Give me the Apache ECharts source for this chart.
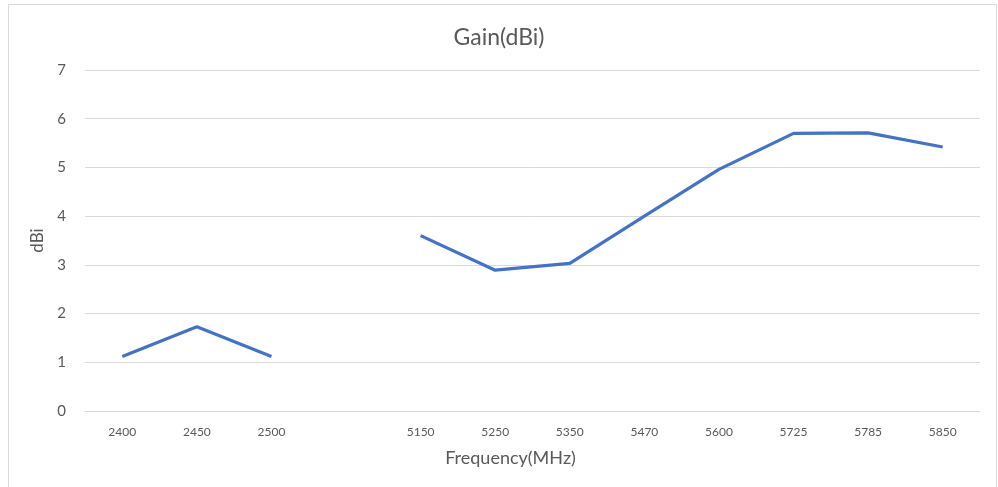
<!DOCTYPE html>
<html>
<head>
<meta charset="utf-8">
<script src="https://cdn.jsdelivr.net/npm/echarts@6/dist/echarts.min.js"></script>
<style>html,body{margin:0;padding:0;background:#fff}#c{width:998px;height:487px}</style>
</head>
<body>
<div id="c"></div>
<script>
const categories = ['2400','2450','2500','','5150','5250','5350','5470','5600','5725','5785','5850'];
const gain = [1.12, 1.73, 1.12, null, 3.6, 2.89, 3.03, 4.0, 4.96, 5.70, 5.71, 5.42];
const yTicks = [0, 7, 1];

const chart = echarts.init(document.getElementById('c'));
const txt = '#595959';
const font = 'Lato, "Open Sans", sans-serif';
chart.setOption({
  animation: false,
  backgroundColor: '#fff',
  graphic: [{
    type: 'rect', shape: {x: 8.5, y: 4.5, width: 988, height: 500},
    style: {fill: 'none', stroke: '#d9d9d9', lineWidth: 1}, silent: true
  }],
  title: {
    text: 'Gain(dBi)', left: 'center', top: 21,
    textStyle: {color: txt, fontSize: 23, fontWeight: 'normal', fontFamily: font}
  },
  grid: {left: 85, right: 18, top: 70, bottom: 76},
  xAxis: {
    type: 'category', data: categories, boundaryGap: true,
    name: 'Frequency(MHz)', nameLocation: 'middle', nameGap: 38,
    nameTextStyle: {color: txt, fontSize: 18, fontFamily: font, padding: [0, 44, 0, 0]},
    axisLine: {show: true, lineStyle: {color: '#d9d9d9'}},
    axisTick: {show: false},
    axisLabel: {color: txt, fontSize: 12, fontFamily: font, margin: 15, interval: 0}
  },
  yAxis: {
    type: 'value', min: yTicks[0], max: yTicks[1], interval: yTicks[2],
    name: 'dBi', nameLocation: 'middle', nameGap: 32,
    nameTextStyle: {color: txt, fontSize: 17, fontFamily: font},
    axisLine: {show: false}, axisTick: {show: false},
    axisLabel: {color: txt, fontSize: 15, fontFamily: font, margin: 19},
    splitLine: {lineStyle: {color: '#d9d9d9', width: 1}}
  },
  series: [{
    type: 'line', data: gain, connectNulls: false, showSymbol: false,
    lineStyle: {color: '#4472C4', width: 3.2}, itemStyle: {color: '#4472C4'}
  }]
});
</script>
</body>
</html>
